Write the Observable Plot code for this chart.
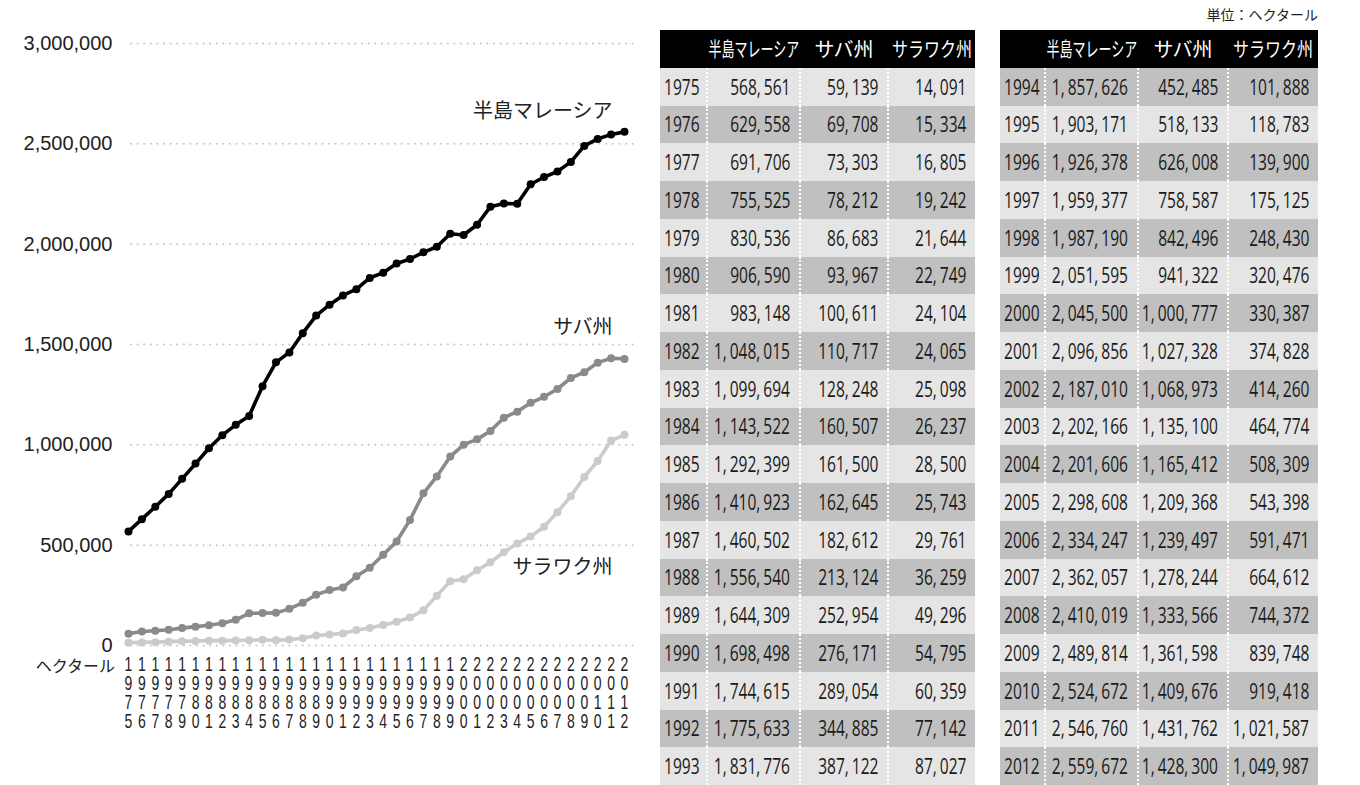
<!DOCTYPE html>
<html><head><meta charset="utf-8">
<script src="https://cdn.jsdelivr.net/npm/d3@7"></script>
<script src="https://cdn.jsdelivr.net/npm/@observablehq/plot@0.6"></script>
<style>
body{margin:0;background:#fff;width:1360px;height:785px;position:relative;overflow:hidden;font-family:"Open Sans","Noto Sans CJK JP",sans-serif;color:#222;}
#chart{position:absolute;left:0;top:0;}
table{position:absolute;top:30px;border-collapse:collapse;table-layout:fixed;font-size:21px;color:#1a1a1a;}
tr{height:37.75px;}
td,th{padding:0;box-sizing:border-box;white-space:nowrap;vertical-align:middle;overflow:visible;}
th{background:#000;color:#fff;font-weight:normal;text-align:center;font-family:"Noto Sans CJK JP",sans-serif;font-size:20px;}
th span{display:inline-block;transform-origin:center;margin:0 -60px;}
td.yr{text-align:left;padding-left:4px;}
td.yr span{display:inline-block;transform:scaleX(0.74);transform-origin:left center;margin-right:-30px;}
td.num{text-align:right;padding-right:9px;border-left:2px dotted #fff;}
td.num span.v{display:inline-block;transform:scaleX(0.74);transform-origin:right center;margin-left:-60px;}
tr.d td{background:#c0c0c0;}
tr.l td{background:#e5e5e5;}
.c{margin-right:4px;}
.note{position:absolute;font-family:"Noto Sans CJK JP",sans-serif;}
</style></head>
<body>
<div id="chart"></div>
<script>
const years = [1975,1976,1977,1978,1979,1980,1981,1982,1983,1984,1985,1986,1987,1988,1989,1990,1991,1992,1993,1994,1995,1996,1997,1998,1999,2000,2001,2002,2003,2004,2005,2006,2007,2008,2009,2010,2011,2012];
const peninsular = [568561,629558,691706,755525,830536,906590,983148,1048015,1099694,1143522,1292399,1410923,1460502,1556540,1644309,1698498,1744615,1775633,1831776,1857626,1903171,1926378,1959377,1987190,2051595,2045500,2096856,2187010,2202166,2201606,2298608,2334247,2362057,2410019,2489814,2524672,2546760,2559672];
const sabah = [59139,69708,73303,78212,86683,93967,100611,110717,128248,160507,161500,162645,182612,213124,252954,276171,289054,344885,387122,452485,518133,626008,758587,842496,941322,1000777,1027328,1068973,1135100,1165412,1209368,1239497,1278244,1333566,1361598,1409676,1431762,1428300];
const sarawak = [14091,15334,16805,19242,21644,22749,24104,24065,25098,26237,28500,25743,29761,36259,49296,54795,60359,77142,87027,101888,118783,139900,175125,248430,320476,330387,374828,414260,464774,508309,543398,591471,664612,744372,839748,919418,1021587,1049987];
const seriesNames = ["半島マレーシア","サバ州","サラワク州"];
const seriesColors = ["#000000","#8a8a8a","#cbcbcb"];
const yTicks = [0,500000,1000000,1500000,2000000,2500000,3000000];
const axisUnit = "ヘクタール";
const unitNote = "単位：ヘクタール";

const seriesValues = [peninsular, sabah, sarawak];
const tidy = seriesValues.flatMap((arr,i)=>arr.map((v,j)=>({series:seriesNames[i], year:years[j], value:v}))).reverse();
const last = i => [{name:seriesNames[i], year:years[years.length-1], value:seriesValues[i][years.length-1]}];
const jp = "'Noto Sans CJK JP', sans-serif";

const plot = Plot.plot({
  width:640, height:750,
  marginLeft:128, marginRight:16, marginTop:43, marginBottom:105,
  style:{fontFamily:"'Liberation Sans', Arial, sans-serif", fontSize:"20px", color:"#222", background:"transparent", overflow:"visible"},
  x:{type:"linear", domain:[years[0], years[years.length-1]]},
  y:{domain:[0,3000000]},
  color:{domain:seriesNames, range:seriesColors},
  marks:[
    Plot.ruleY(yTicks,{stroke:"#c4c4c4", strokeWidth:2, strokeDasharray:"0,6.6", strokeLinecap:"round", insetLeft:3, insetRight:-11}),
    Plot.axisY({ticks:yTicks, tickSize:0, tickPadding:16, tickFormat:d3.format(","), fontSize:20, label:null}),
    Plot.axisX({ticks:years, tickSize:0, tickPadding:12, tickFormat:d=>String(d).split("").join("\n"), fontSize:20, lineHeight:0.95, fontFamily:"'Liberation Sans', Arial, sans-serif", label:null}),
    Plot.line(tidy,{x:"year", y:"value", z:"series", stroke:"series", strokeWidth:3.6}),
    Plot.dot(tidy,{x:"year", y:"value", fill:"series", r:4}),
    Plot.text(last(0),{x:"year", y:"value", text:"name", textAnchor:"end", dx:-12, dy:-20, fontSize:20, fontFamily:jp, fill:"#222"}),
    Plot.text(last(1),{x:"year", y:"value", text:"name", textAnchor:"end", dx:-12, dy:-31, fontSize:20, fontFamily:jp, fill:"#222"}),
    Plot.text(last(2),{x:"year", y:"value", text:"name", textAnchor:"end", dx:-12, dy:133, fontSize:20, fontFamily:jp, fill:"#222"})
  ]
});
document.getElementById("chart").appendChild(plot);
// condense the stacked year digits of the x axis
plot.querySelectorAll("text").forEach(t=>{
  if (!/^(19|20)\d\d$/.test(t.textContent.trim())) return;
  const tr = t.getAttribute("transform");
  if (tr) {
    t.setAttribute("transform", tr + " scale(0.7,1)");
  } else {
    const x = +(t.getAttribute("x") || 0);
    t.setAttribute("transform", `translate(${x},0) scale(0.7,1) translate(${-x},0)`);
  }
});

const u = document.createElement("div");
u.className = "note";
u.textContent = axisUnit;
u.style.cssText = "left:0;width:115px;text-align:right;top:653px;font-size:16px;";
document.body.appendChild(u);

const n = document.createElement("div");
n.className = "note";
n.textContent = unitNote;
n.style.cssText = "right:42px;top:4px;font-size:14px;";
document.body.appendChild(n);

const fmt = d3.format(",");
const headerScale = [0.65, 1.0, 0.8];
function buildTable(from, to, left, widths){
  const t = document.createElement("table");
  t.style.left = left + "px";
  t.style.width = d3.sum(widths) + "px";
  const cg = document.createElement("colgroup");
  widths.forEach(w=>{const c=document.createElement("col"); c.style.width=w+"px"; cg.appendChild(c);});
  t.appendChild(cg);
  const hr = document.createElement("tr");
  hr.appendChild(document.createElement("th"));
  seriesNames.forEach((s,k)=>{
    const th=document.createElement("th");
    const sp=document.createElement("span"); sp.textContent=s; sp.style.transform="scaleX("+headerScale[k]+")";
    th.appendChild(sp); hr.appendChild(th);
  });
  t.appendChild(hr);
  for(let i=from;i<=to;i++){
    const tr = document.createElement("tr");
    tr.className = years[i]%2===0 ? "d" : "l";
    const y = document.createElement("td"); y.className="yr"; y.innerHTML="<span>"+years[i]+"</span>"; tr.appendChild(y);
    seriesValues.forEach(arr=>{
      const td=document.createElement("td"); td.className="num";
      td.innerHTML = '<span class="v">' + fmt(arr[i]).replace(/,/g,'<span class="c">,</span>') + '</span>';
      tr.appendChild(td);
    });
    t.appendChild(tr);
  }
  document.body.appendChild(t);
}
buildTable(0, 18, 660, [47,93,88,87]);
buildTable(19, 37, 1000, [45,93,90,90]);
</script>
</body></html>
